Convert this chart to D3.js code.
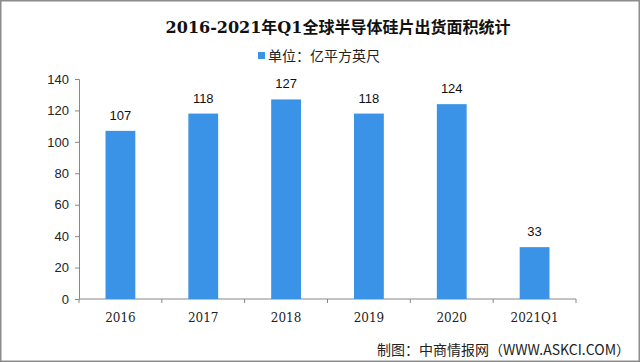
<!DOCTYPE html>
<html>
<head>
<meta charset="utf-8">
<script src="https://cdn.jsdelivr.net/npm/d3@7"></script>
<style>
  body { margin: 0; background: #fff; }
  svg { display: block; }
</style>
</head>
<body>
<div id="chart"></div>
<script>
// data
var years = ["2016", "2017", "2018", "2019", "2020", "2021Q1"];
var area = [107, 118, 127, 118, 124, 33];
var yTicks = [0, 20, 40, 60, 80, 100, 120, 140];

var W = 640, H = 362;
var margin = {top: 79, right: 64, bottom: 63, left: 79},
    width = W - margin.left - margin.right,
    height = H - margin.top - margin.bottom;

var svg = d3.select("#chart").append("svg")
    .attr("width", W)
    .attr("height", H);

// frame
svg.append("rect")
    .attr("x", 0.75).attr("y", 0.75)
    .attr("width", W - 1.5).attr("height", H - 1.5)
    .attr("fill", "#fff")
    .attr("stroke", "#8c8c8c")
    .attr("stroke-width", 1.5);

svg.append("text")
    .attr("x", 338).attr("y", 33)
    .attr("text-anchor", "middle")
    .style("font-family", "'DejaVu Serif', 'Noto Sans CJK SC', serif")
    .style("font-weight", "bold")
    .style("font-size", "16px")
    .attr("fill", "#111")
    .text("2016-2021年Q1全球半导体硅片出货面积统计");

// legend
svg.append("rect")
    .attr("x", 258).attr("y", 52)
    .attr("width", 7).attr("height", 7)
    .attr("fill", "#3a93e6");
svg.append("text")
    .attr("x", 268).attr("y", 61)
    .style("font-family", "'Noto Sans CJK SC', sans-serif")
    .style("font-size", "14px")
    .attr("fill", "#222")
    .text("单位：亿平方英尺");

var g = svg.append("g")
    .attr("transform", "translate(" + margin.left + "," + margin.top + ")");

var x = d3.scaleBand()
    .domain(years)
    .range([0, width])
    .paddingInner(0.64)
    .paddingOuter(0.32);

var y = d3.scaleLinear()
    .domain([0, 140])
    .range([height, 0]);

var yAxis = g.append("g")
    .call(d3.axisLeft(y).tickValues(yTicks).tickSize(4).tickPadding(6));
yAxis.select(".domain").attr("stroke", "#888");
yAxis.selectAll(".tick line").attr("stroke", "#888");
yAxis.selectAll("text")
    .style("font-family", "Arial, 'Liberation Sans', sans-serif")
    .style("font-size", "13px")
    .attr("fill", "#222");

// x axis: ticks sit on the band edges
var xAxis = g.append("g").attr("transform", "translate(0," + height + ")");
xAxis.append("line")
    .attr("x1", 0).attr("x2", width)
    .attr("stroke", "#888");
var edges = years.map(function(d) { return x(d) - x.step() * x.paddingOuter() + x.step(); });
edges.unshift(0);
xAxis.selectAll(".edge")
    .data(edges)
    .enter().append("line")
    .attr("class", "edge")
    .attr("x1", function(d) { return d; })
    .attr("x2", function(d) { return d; })
    .attr("y1", 0).attr("y2", 4)
    .attr("stroke", "#888");
xAxis.selectAll(".lab")
    .data(years)
    .enter().append("text")
    .attr("class", "lab")
    .attr("x", function(d) { return x(d) + x.bandwidth() / 2; })
    .attr("y", 23)
    .attr("text-anchor", "middle")
    .style("font-family", "'DejaVu Serif', serif")
    .style("font-size", "12px")
    .attr("fill", "#222")
    .text(function(d) { return d; });

var rows = years.map(function(d, i) { return {year: d, v: area[i]}; });

g.selectAll(".bar")
    .data(rows)
    .enter().append("rect")
    .attr("class", "bar")
    .attr("x", function(d) { return x(d.year); })
    .attr("y", function(d) { return y(d.v); })
    .attr("width", x.bandwidth())
    .attr("height", function(d) { return height - y(d.v); })
    .attr("fill", "#3a93e6");

g.selectAll(".val")
    .data(rows)
    .enter().append("text")
    .attr("class", "val")
    .attr("x", function(d) { return x(d.year) + x.bandwidth() / 2; })
    .attr("y", function(d) { return y(d.v) - 11; })
    .attr("text-anchor", "middle")
    .style("font-family", "Arial, 'Liberation Sans', sans-serif")
    .style("font-size", "13px")
    .attr("fill", "#111")
    .text(function(d) { return d.v; });

svg.append("text")
    .attr("x", 630).attr("y", 355)
    .attr("text-anchor", "end")
    .style("font-family", "'Noto Sans CJK SC', sans-serif")
    .style("font-size", "14px")
    .attr("fill", "#222")
    .text("制图：中商情报网（WWW.ASKCI.COM）");
</script>
</body>
</html>
